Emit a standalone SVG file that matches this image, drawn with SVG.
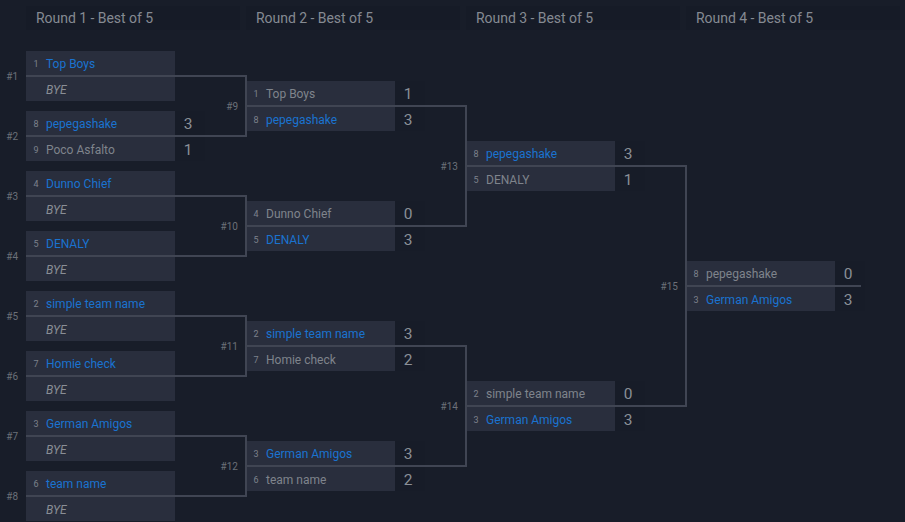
<svg xmlns="http://www.w3.org/2000/svg" width="905" height="522" viewBox="0 0 905 522">
<style>
text{font-family:Roboto,"Liberation Sans",sans-serif}
.h{font-size:14px;fill:#858a92;letter-spacing:-.04px}
.hb{fill:#161b27}
.b{fill:#292e3d}
.sb{fill:#171c28}
.s{font-size:9px;fill:#7d828c;text-anchor:middle}
.n{font-size:12px;fill:#7f848c}
.w{fill:#1a73d0}
.y{font-style:italic;fill:#8a8e96}
.sc{font-size:15.5px;fill:#8a8f97;text-anchor:middle;transform:translateY(.5px)}
.m{font-size:10px;fill:#6b7078;text-anchor:end}
.c{fill:none;stroke:#40455380;stroke:#404553;stroke-width:2}
</style>
<rect width="905" height="522" fill="#181d29"/>
<g id="headers">
<rect class="hb" x="26" y="6" width="214" height="24"/><text class="h" x="36" y="23">Round 1 - Best of 5</text>
<rect class="hb" x="246" y="6" width="214" height="24"/><text class="h" x="256" y="23">Round 2 - Best of 5</text>
<rect class="hb" x="466" y="6" width="214" height="24"/><text class="h" x="476" y="23">Round 3 - Best of 5</text>
<rect class="hb" x="686" y="6" width="214" height="24"/><text class="h" x="696" y="23">Round 4 - Best of 5</text>
</g>
<g id="m1"><rect class="b" x="26" y="51" width="149" height="50"/><text class="s" x="36" y="67">1</text><text class="n w" x="46" y="68">Top Boys</text><text class="n y" x="46" y="94">BYE</text><text class="m" x="18" y="80">#1</text></g>
<g id="m2"><rect class="b" x="26" y="111" width="149" height="50"/><rect class="sb" x="175" y="111" width="30" height="50"/><text class="s" x="36" y="127">8</text><text class="n w" x="46" y="128">pepegashake</text><text class="s" x="36" y="153">9</text><text class="n" x="46" y="154">Poco Asfalto</text><text class="sc" x="188" y="128">3</text><text class="sc" x="188" y="154">1</text><text class="m" x="18" y="140">#2</text></g>
<g id="m3"><rect class="b" x="26" y="171" width="149" height="50"/><text class="s" x="36" y="187">4</text><text class="n w" x="46" y="188">Dunno Chief</text><text class="n y" x="46" y="214">BYE</text><text class="m" x="18" y="200">#3</text></g>
<g id="m4"><rect class="b" x="26" y="231" width="149" height="50"/><text class="s" x="36" y="247">5</text><text class="n w" x="46" y="248">DENALY</text><text class="n y" x="46" y="274">BYE</text><text class="m" x="18" y="260">#4</text></g>
<g id="m5"><rect class="b" x="26" y="291" width="149" height="50"/><text class="s" x="36" y="307">2</text><text class="n w" x="46" y="308">simple team name</text><text class="n y" x="46" y="334">BYE</text><text class="m" x="18" y="320">#5</text></g>
<g id="m6"><rect class="b" x="26" y="351" width="149" height="50"/><text class="s" x="36" y="367">7</text><text class="n w" x="46" y="368">Homie check</text><text class="n y" x="46" y="394">BYE</text><text class="m" x="18" y="380">#6</text></g>
<g id="m7"><rect class="b" x="26" y="411" width="149" height="50"/><text class="s" x="36" y="427">3</text><text class="n w" x="46" y="428">German Amigos</text><text class="n y" x="46" y="454">BYE</text><text class="m" x="18" y="440">#7</text></g>
<g id="m8"><rect class="b" x="26" y="471" width="149" height="50"/><text class="s" x="36" y="487">6</text><text class="n w" x="46" y="488">team name</text><text class="n y" x="46" y="514">BYE</text><text class="m" x="18" y="500">#8</text></g>
<g id="m9"><rect class="b" x="246" y="81" width="149" height="50"/><rect class="sb" x="395" y="81" width="30" height="50"/><text class="s" x="256" y="97">1</text><text class="n" x="266" y="98">Top Boys</text><text class="s" x="256" y="123">8</text><text class="n w" x="266" y="124">pepegashake</text><text class="sc" x="408" y="98">1</text><text class="sc" x="408" y="124">3</text><text class="m" x="238" y="110">#9</text></g>
<g id="m10"><rect class="b" x="246" y="201" width="149" height="50"/><rect class="sb" x="395" y="201" width="30" height="50"/><text class="s" x="256" y="217">4</text><text class="n" x="266" y="218">Dunno Chief</text><text class="s" x="256" y="243">5</text><text class="n w" x="266" y="244">DENALY</text><text class="sc" x="408" y="218">0</text><text class="sc" x="408" y="244">3</text><text class="m" x="238" y="230">#10</text></g>
<g id="m11"><rect class="b" x="246" y="321" width="149" height="50"/><rect class="sb" x="395" y="321" width="30" height="50"/><text class="s" x="256" y="337">2</text><text class="n w" x="266" y="338">simple team name</text><text class="s" x="256" y="363">7</text><text class="n" x="266" y="364">Homie check</text><text class="sc" x="408" y="338">3</text><text class="sc" x="408" y="364">2</text><text class="m" x="238" y="350">#11</text></g>
<g id="m12"><rect class="b" x="246" y="441" width="149" height="50"/><rect class="sb" x="395" y="441" width="30" height="50"/><text class="s" x="256" y="457">3</text><text class="n w" x="266" y="458">German Amigos</text><text class="s" x="256" y="483">6</text><text class="n" x="266" y="484">team name</text><text class="sc" x="408" y="458">3</text><text class="sc" x="408" y="484">2</text><text class="m" x="238" y="470">#12</text></g>
<g id="m13"><rect class="b" x="466" y="141" width="149" height="50"/><rect class="sb" x="615" y="141" width="30" height="50"/><text class="s" x="476" y="157">8</text><text class="n w" x="486" y="158">pepegashake</text><text class="s" x="476" y="183">5</text><text class="n" x="486" y="184">DENALY</text><text class="sc" x="628" y="158">3</text><text class="sc" x="628" y="184">1</text><text class="m" x="458" y="170">#13</text></g>
<g id="m14"><rect class="b" x="466" y="381" width="149" height="50"/><rect class="sb" x="615" y="381" width="30" height="50"/><text class="s" x="476" y="397">2</text><text class="n" x="486" y="398">simple team name</text><text class="s" x="476" y="423">3</text><text class="n w" x="486" y="424">German Amigos</text><text class="sc" x="628" y="398">0</text><text class="sc" x="628" y="424">3</text><text class="m" x="458" y="410">#14</text></g>
<g id="m15"><rect class="b" x="686" y="261" width="149" height="50"/><rect class="sb" x="835" y="261" width="30" height="50"/><text class="s" x="696" y="277">8</text><text class="n" x="706" y="278">pepegashake</text><text class="s" x="696" y="303">3</text><text class="n w" x="706" y="304">German Amigos</text><text class="sc" x="848" y="278">0</text><text class="sc" x="848" y="304">3</text><text class="m" x="678" y="290">#15</text></g>
<g id="connectors">
<path class="c" d="M26 76H246V136H26"/><path class="c" d="M26 196H246V256H26"/><path class="c" d="M26 316H246V376H26"/><path class="c" d="M26 436H246V496H26"/>
<path class="c" d="M246 106H466V226H246"/><path class="c" d="M246 346H466V466H246"/>
<path class="c" d="M466 166H686V406H466"/>
<path class="c" d="M686 286H861"/>
</g>
</svg>
